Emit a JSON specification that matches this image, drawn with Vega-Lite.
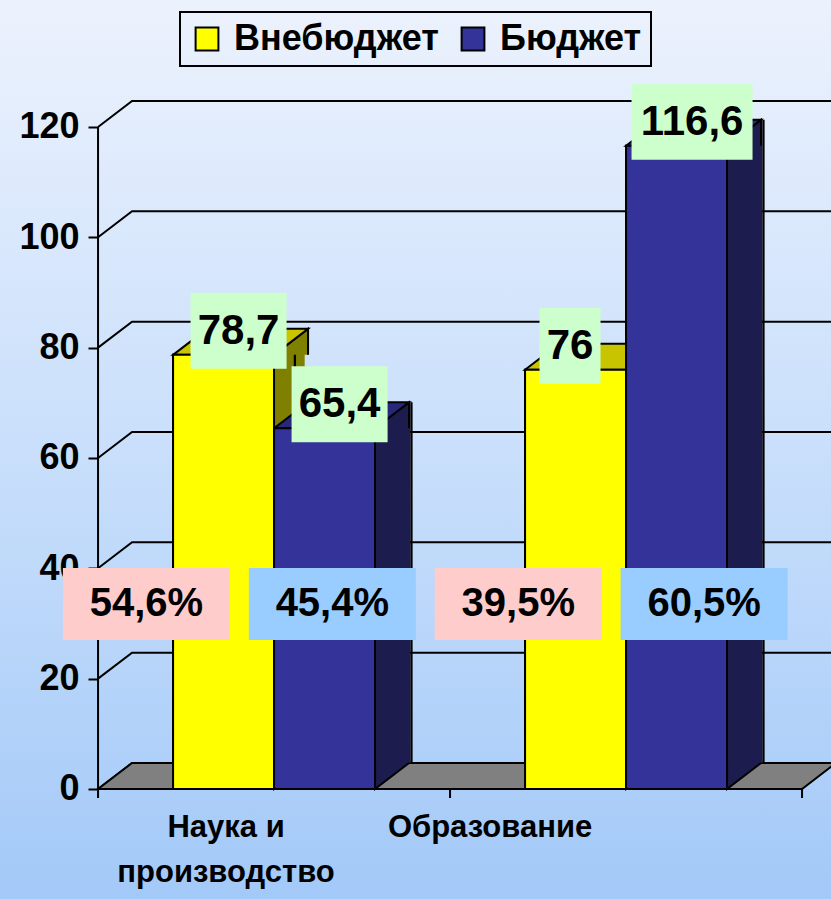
{
  "$schema": "https://vega.github.io/schema/vega-lite/v6.json",
  "width": 831,
  "height": 899,
  "autosize": "none",
  "padding": 0,
  "config": {
    "view": {
      "stroke": null,
      "fill": {"gradient": "linear", "x1": 0, "y1": 0, "x2": 0, "y2": 1,
        "stops": [{"offset": 0, "color": "#ecf2fd"}, {"offset": 0.5, "color": "#c9dffb"}, {"offset": 1, "color": "#a3c9f8"}]}
    },
    "font": "Liberation Sans",
    "locale": {"number": {"decimal": ",", "thousands": " ", "grouping": [3], "currency": ["", ""]}},
    "axis": {"grid": false},
    "legend": {"strokeWidth": 2}
  },
  "datasets": {
    "budget": [
      {"category": "Наука и производство", "series": "Внебюджет", "value": 78.7},
      {"category": "Наука и производство", "series": "Бюджет", "value": 65.4},
      {"category": "Образование", "series": "Внебюджет", "value": 76},
      {"category": "Образование", "series": "Бюджет", "value": 116.6}
    ],
    "shares": [
      {"category": "Наука и производство", "series": "Внебюджет", "share": 0.546},
      {"category": "Наука и производство", "series": "Бюджет", "share": 0.454},
      {"category": "Образование", "series": "Внебюджет", "share": 0.395},
      {"category": "Образование", "series": "Бюджет", "share": 0.605}
    ],
    "grid": [{"tick": 0}, {"tick": 20}, {"tick": 40}, {"tick": 60}, {"tick": 80}, {"tick": 100}, {"tick": 120}],
    "frame": [{"from": 0, "to": 120}]
  },
  "resolve": {"scale": {"x": "independent"}},
  "layer": [
    {
      "resolve": {"scale": {"xOffset": "independent"}},
      "layer": [
        {
          "data": {"name": "budget"},
          "mark": {"type": "bar", "stroke": "black", "strokeWidth": 2, "opacity": 1},
          "encoding": {
            "x": {"field": "category", "type": "nominal",
              "scale": {"type": "band", "domain": ["Наука и производство", "Образование"], "paddingInner": 0, "paddingOuter": 0.1804, "align": 0.772},
              "axis": {"orient": "bottom", "offset": -110, "title": null, "domain": false, "ticks": false, "tickSize": 0, "labelAngle": 0,
                "labelPadding": 23, "labelFont": "Liberation Sans", "labelFontSize": 31, "labelFontWeight": "bold", "labelColor": "black",
                "labelLineHeight": 45, "labelBaseline": "top", "labelLimit": 0,
                "labelExpr": "datum.value === 'Наука и производство' ? ['Наука и', 'производство'] : datum.label",
                "labelOffset": {"condition": {"test": "datum.value === 'Образование'", "value": -136}, "value": -48}}},
            "xOffset": {"field": "series", "type": "nominal", "scale": {"domain": ["Внебюджет", "Бюджет"], "paddingInner": 0, "paddingOuter": 0.743}},
            "y": {"field": "value", "type": "quantitative", "scale": {"domain": [-19.94, 143.02], "nice": false, "zero": false},
              "axis": {"orient": "left", "offset": -98, "title": null, "values": [0, 20, 40, 60, 80, 100, 120], "domain": false,
                "ticks": true, "tickSize": 10, "tickWidth": 2, "tickColor": "black", "labelPadding": 9,
                "labelFont": "Liberation Sans", "labelFontSize": 36, "labelFontWeight": "bold", "labelColor": "black", "grid": false}},
            "y2": {"datum": 0},
            "color": {"field": "series", "type": "nominal", "title": null,
              "scale": {"domain": ["Внебюджет", "Бюджет"], "range": ["#ffff00", "#333399"]},
              "legend": {"orient": "none", "legendX": 180, "legendY": 12, "direction": "horizontal", "title": null,
                "symbolType": "square", "symbolSize": 520, "symbolStrokeColor": "black", "symbolStrokeWidth": 2, "symbolOpacity": 1,
                "labelFont": "Liberation Sans", "labelFontSize": 36, "labelFontWeight": "bold", "labelColor": "black", "labelLimit": 400,
                "strokeColor": "black", "padding": 9, "columnPadding": 16, "labelOffset": 9}}
          }
        },
        {
          "data": {"name": "grid"},
          "mark": {"type": "point", "shape": "M0,0L0.34,-0.26L8,-0.26", "size": 40000, "filled": false, "stroke": "black", "strokeWidth": 2, "opacity": 1},
          "encoding": {
            "x": {"datum": "Наука и производство", "type": "nominal", "bandPosition": 0, "axis": {"title": null}},
            "y": {"field": "tick", "type": "quantitative", "axis": {"title": null}, "scale": {"domain": [-19.94, 143.02], "nice": false, "zero": false}}
          }
        },
        {
          "data": {"name": "frame"},
          "mark": {"type": "rule", "stroke": "black", "strokeWidth": 2},
          "encoding": {
            "x": {"datum": "Наука и производство", "type": "nominal", "bandPosition": 0, "axis": {"title": null}},
            "y": {"field": "from", "type": "quantitative", "axis": {"title": null}, "scale": {"domain": [-19.94, 143.02], "nice": false, "zero": false}},
            "y2": {"field": "to"}
          }
        },
        {
          "data": {"name": "frame"},
          "mark": {"type": "point", "shape": "M0,0L7.04,0L7.38,-0.26L0.34,-0.26Z M0,0L0,0.09 M3.52,0L3.52,0.09 M7.04,0L7.04,0.09", "size": 40000, "filled": true, "fill": "#808080", "stroke": "black", "strokeWidth": 2, "opacity": 1},
          "encoding": {
            "x": {"datum": "Наука и производство", "type": "nominal", "bandPosition": 0, "axis": {"title": null}},
            "y": {"field": "from", "type": "quantitative", "axis": {"title": null}, "scale": {"domain": [-19.94, 143.02], "nice": false, "zero": false}}
          }
        },
        {
          "data": {"name": "budget"},
          "mark": {"type": "bar", "yOffset": -26, "y2Offset": -26},
          "encoding": {
            "x": {"field": "category", "type": "nominal", "axis": {"title": null}},
            "xOffset": {"field": "series", "type": "nominal", "scale": {"domain": ["Внебюджет", "Бюджет"], "paddingInner": 0.6634, "paddingOuter": 1.0743, "align": 0.811}},
            "y": {"field": "value", "type": "quantitative", "axis": {"title": null}, "scale": {"domain": [-19.94, 143.02], "nice": false, "zero": false}},
            "y2": {"datum": 0},
            "fill": {"condition": {"test": "datum.series === 'Бюджет'", "value": "#1c1c4e"}, "value": "#808000"}
          }
        },
        {
          "data": {"name": "budget"},
          "mark": {"type": "bar", "yOffset": -26, "y2Offset": -26, "fill": "black"},
          "encoding": {
            "x": {"field": "category", "type": "nominal", "axis": {"title": null}},
            "xOffset": {"field": "series", "type": "nominal", "scale": {"domain": ["Внебюджет", "Бюджет"], "paddingInner": 0.9802, "paddingOuter": 1.2327, "align": 0.8394}},
            "y": {"field": "value", "type": "quantitative", "axis": {"title": null}, "scale": {"domain": [-19.94, 143.02], "nice": false, "zero": false}},
            "y2": {"datum": 0}
          }
        },
        {
          "data": {"name": "budget"},
          "mark": {"type": "point", "shape": "M0.505,-0.26L0.505,0L0.845,-0.26", "size": 40000, "filled": true, "stroke": "black", "strokeWidth": 2, "opacity": 1},
          "encoding": {
            "x": {"field": "category", "type": "nominal", "axis": {"title": null}},
            "xOffset": {"field": "series", "type": "nominal", "scale": {"type": "band", "domain": ["Внебюджет", "Бюджет"], "paddingInner": 0, "paddingOuter": 0.743}},
            "y": {"datum": 0, "type": "quantitative", "axis": {"title": null}, "scale": {"domain": [-19.94, 143.02], "nice": false, "zero": false}},
            "fill": {"condition": {"test": "datum.series === 'Бюджет'", "value": "#1c1c4e"}, "value": "#808000"}
          }
        },
        {
          "data": {"name": "budget"},
          "mark": {"type": "point", "shape": "M0.505,0L0.845,-0.26L0.845,0", "size": 40000, "filled": true, "stroke": "black", "strokeWidth": 2, "opacity": 1},
          "encoding": {
            "x": {"field": "category", "type": "nominal", "axis": {"title": null}},
            "xOffset": {"field": "series", "type": "nominal", "scale": {"type": "band", "domain": ["Внебюджет", "Бюджет"], "paddingInner": 0, "paddingOuter": 0.743}},
            "y": {"field": "value", "type": "quantitative", "axis": {"title": null}, "scale": {"domain": [-19.94, 143.02], "nice": false, "zero": false}},
            "fill": {"condition": {"test": "datum.series === 'Бюджет'", "value": "#1c1c4e"}, "value": "#808000"}
          }
        },
        {
          "data": {"name": "budget"},
          "mark": {"type": "point", "shape": "M-0.505,0L-0.165,-0.26L0.845,-0.26L0.505,0Z", "size": 40000, "filled": true, "stroke": "black", "strokeWidth": 2, "opacity": 1},
          "encoding": {
            "x": {"field": "category", "type": "nominal", "axis": {"title": null}},
            "xOffset": {"field": "series", "type": "nominal", "scale": {"type": "band", "domain": ["Внебюджет", "Бюджет"], "paddingInner": 0, "paddingOuter": 0.743}},
            "y": {"field": "value", "type": "quantitative", "axis": {"title": null}, "scale": {"domain": [-19.94, 143.02], "nice": false, "zero": false}},
            "fill": {"condition": {"test": "datum.series === 'Бюджет'", "value": "#28287a"}, "value": "#c8c400"}
          }
        },
        {
          "data": {"name": "budget"},
          "mark": {"type": "bar", "stroke": "black", "strokeWidth": 2, "opacity": 1},
          "encoding": {
            "x": {"field": "category", "type": "nominal", "axis": {"title": null}},
            "xOffset": {"field": "series", "type": "nominal", "scale": {"domain": ["Внебюджет", "Бюджет"], "paddingInner": 0, "paddingOuter": 0.743}},
            "y": {"field": "value", "type": "quantitative", "axis": {"title": null}, "scale": {"domain": [-19.94, 143.02], "nice": false, "zero": false}},
            "y2": {"datum": 0},
            "fill": {"condition": {"test": "datum.series === 'Бюджет'", "value": "#333399"}, "value": "#ffff00"}
          }
        },
        {
          "data": {"name": "budget"},
          "transform": [{"filter": {"field": "value", "oneOf": [78.7, 65.4]}}],
          "layer": [
            {"mark": {"type": "bar", "yOffset": -62, "y2Offset": 14, "fill": "#ccffcc"},
             "encoding": {"y2": {"field": "value"}}},
            {"mark": {"type": "text", "yOffset": -24, "fontSize": 42, "fontWeight": "bold", "color": "black", "baseline": "middle", "align": "center"},
             "encoding": {"text": {"field": "value", "type": "quantitative", "format": ".4~r"}}}
          ],
          "encoding": {
            "x": {"field": "category", "type": "nominal", "axis": {"title": null}},
            "xOffset": {"field": "series", "type": "nominal", "scale": {"domain": ["Внебюджет", "Бюджет"], "paddingInner": 0.0495, "paddingOuter": 0.767, "align": 0.597}},
            "y": {"field": "value", "type": "quantitative", "axis": {"title": null}, "scale": {"domain": [-19.94, 143.02], "nice": false, "zero": false}}
          }
        },
        {
          "data": {"name": "budget"},
          "transform": [{"filter": {"field": "value", "oneOf": [76]}}],
          "layer": [
            {"mark": {"type": "bar", "yOffset": -62, "y2Offset": 14, "fill": "#ccffcc"},
             "encoding": {"y2": {"field": "value"}}},
            {"mark": {"type": "text", "yOffset": -24, "fontSize": 42, "fontWeight": "bold", "color": "black", "baseline": "middle", "align": "center"},
             "encoding": {"text": {"field": "value", "type": "quantitative", "format": ".4~r"}}}
          ],
          "encoding": {
            "x": {"field": "category", "type": "nominal", "axis": {"title": null}},
            "xOffset": {"field": "series", "type": "nominal", "scale": {"domain": ["Внебюджет", "Бюджет"], "paddingInner": 0.396, "paddingOuter": 0.9406, "align": 0.471}},
            "y": {"field": "value", "type": "quantitative", "axis": {"title": null}, "scale": {"domain": [-19.94, 143.02], "nice": false, "zero": false}}
          }
        },
        {
          "data": {"name": "budget"},
          "transform": [{"filter": {"field": "value", "oneOf": [116.6]}}],
          "layer": [
            {"mark": {"type": "bar", "yOffset": -62, "y2Offset": 14, "fill": "#ccffcc"},
             "encoding": {"y2": {"field": "value"}}},
            {"mark": {"type": "text", "yOffset": -24, "fontSize": 42, "fontWeight": "bold", "color": "black", "baseline": "middle", "align": "center"},
             "encoding": {"text": {"field": "value", "type": "quantitative", "format": ".4~r"}}}
          ],
          "encoding": {
            "x": {"field": "category", "type": "nominal", "axis": {"title": null}},
            "xOffset": {"field": "series", "type": "nominal", "scale": {"domain": ["Внебюджет", "Бюджет"], "paddingInner": 0, "paddingOuter": 0.4545, "align": 0.55}},
            "y": {"field": "value", "type": "quantitative", "axis": {"title": null}, "scale": {"domain": [-19.94, 143.02], "nice": false, "zero": false}}
          }
        }
      ]
    },
    {
      "data": {"name": "shares"},
      "encoding": {
        "x": {"field": "share", "type": "nominal", "sort": null, "axis": null,
          "scale": {"type": "band", "paddingInner": 0.1017, "paddingOuter": 0.2859, "align": 0.592}}
      },
      "layer": [
        {
          "mark": {"type": "bar"},
          "encoding": {
            "y": {"datum": 40.06, "type": "quantitative", "axis": {"title": null}, "scale": {"domain": [-19.94, 143.02], "nice": false, "zero": false}},
            "y2": {"datum": 27.0},
            "fill": {"condition": {"test": "datum.series === 'Бюджет'", "value": "#99ccff"}, "value": "#ffcccc"}
          }
        },
        {
          "mark": {"type": "text", "fontSize": 40, "fontWeight": "bold", "color": "black", "baseline": "middle", "align": "center"},
          "encoding": {
            "y": {"datum": 33.53, "type": "quantitative", "axis": {"title": null}, "scale": {"domain": [-19.94, 143.02], "nice": false, "zero": false}},
            "text": {"field": "share", "type": "quantitative", "format": ".1%"}
          }
        }
      ]
    }
  ]
}
